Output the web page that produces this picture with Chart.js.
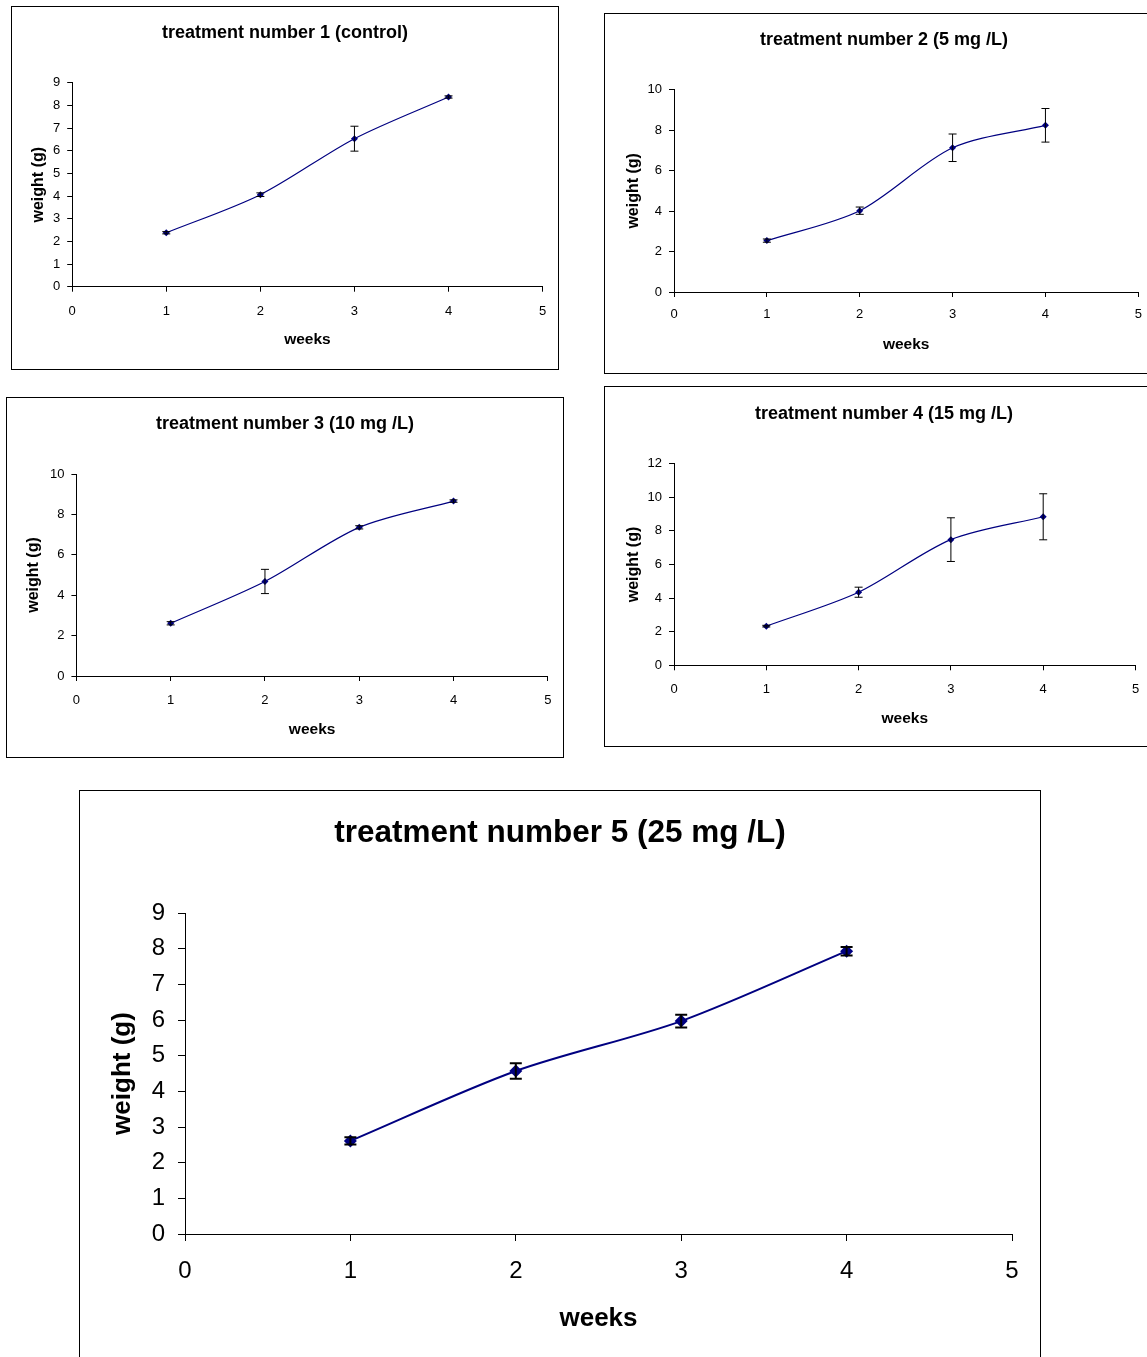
<!DOCTYPE html>
<html><head><meta charset="utf-8">
<script src="https://cdn.jsdelivr.net/npm/chart.js@4.4.0/dist/chart.umd.min.js"></script>
<style>
html,body{margin:0;padding:0;background:#fff;width:1147px;height:1357px;overflow:hidden;position:relative;}
.box{position:absolute;border:1px solid #000;box-sizing:border-box;background:#fff;}
.box canvas{display:block;}
</style></head><body>
<div class="box" id="b1"><canvas id="c1"></canvas></div>
<div class="box" id="b2"><canvas id="c2"></canvas></div>
<div class="box" id="b3"><canvas id="c3"></canvas></div>
<div class="box" id="b4"><canvas id="c4"></canvas></div>
<div class="box" id="b5"><canvas id="c5"></canvas></div>
<script>
// ---- data ----
const weeks = [1, 2, 3, 4];
const xTitle = 'weeks';
const yTitle = 'weight (g)';

const title1 = 'treatment number 1 (control)';
const weight1 = [2.38, 4.06, 6.53, 8.37];
const err1 = [0.05, 0.08, 0.55, 0.05];
const yMax1 = 9, yStep1 = 1;

const title2 = 'treatment number 2 (5 mg /L)';
const weight2 = [2.54, 4.02, 7.13, 8.24];
const err2 = [0.08, 0.18, 0.68, 0.83];
const yMax2 = 10, yStep2 = 2;

const title3 = 'treatment number 3 (10 mg /L)';
const weight3 = [2.61, 4.68, 7.36, 8.66];
const err3 = [0.08, 0.6, 0.08, 0.06];
const yMax3 = 10, yStep3 = 2;

const title4 = 'treatment number 4 (15 mg /L)';
const weight4 = [2.33, 4.35, 7.48, 8.84];
const err4 = [0.05, 0.3, 1.3, 1.37];
const yMax4 = 12, yStep4 = 2;

const title5 = 'treatment number 5 (25 mg /L)';
const weight5 = [2.61, 4.57, 5.97, 7.93];
const err5 = [0.1, 0.22, 0.18, 0.12];
const yMax5 = 9, yStep5 = 1;

const xMin = 0, xMax = 5, xStep = 1;

// ---- layout (box position, plot area in canvas coords, text centres) ----
const FONT = "'Liberation Sans', Arial, sans-serif";
const small = {titleSize: 18, tickSize: 13, xAxisSize: 15.5, yAxisSize: 16, lineW: 1.2, pointR: 3.5, errW: 1, cap: 4, ytl: 5, ytp: 7, xtl: 5};
const big = {titleSize: 31.5, tickSize: 24, xAxisSize: 26, yAxisSize: 26, lineW: 2, pointR: 6.5, errW: 2, cap: 6, ytl: 7, ytp: 13, xtl: 7};

const layouts = [
  {box: [11, 6, 548, 364], plot: [60.2, 75.7, 530.6, 279.7], titleCy: 25.7, tickCy: 304, weeksCy: 332.3, weightCx: 27, st: small},
  {box: [604, 13, 560, 361], plot: [69, 75.7, 533.3, 278], titleCy: 25.7, tickCy: 300.7, weeksCy: 330.7, weightCx: 28.4, st: small},
  {box: [6, 397, 558, 361], plot: [69.4, 76, 540.8, 278], titleCy: 25.7, tickCy: 302.3, weeksCy: 331.3, weightCx: 26.9, st: small},
  {box: [604, 386, 560, 361], plot: [69, 76.7, 530.5, 278.3], titleCy: 26.7, tickCy: 302.3, weeksCy: 331.3, weightCx: 28.4, st: small},
  {box: [79, 790, 962, 580], plot: [105, 122, 932, 443], titleCy: 42, tickCy: 480, weeksCy: 528, weightCx: 43, st: big}
];

const series = [
  {title: title1, y: weight1, err: err1, yMax: yMax1, yStep: yStep1},
  {title: title2, y: weight2, err: err2, yMax: yMax2, yStep: yStep2},
  {title: title3, y: weight3, err: err3, yMax: yMax3, yStep: yStep3},
  {title: title4, y: weight4, err: err4, yMax: yMax4, yStep: yStep4},
  {title: title5, y: weight5, err: err5, yMax: yMax5, yStep: yStep5}
];

function makeErrorPlugin(errs, st) {
  return {
    id: 'errbars',
    afterDatasetsDraw(chart) {
      const ctx = chart.ctx, xs = chart.scales.x, ys = chart.scales.y;
      const data = chart.data.datasets[0].data;
      ctx.save();
      ctx.strokeStyle = '#000';
      ctx.lineWidth = st.errW;
      data.forEach((p, i) => {
        const px = xs.getPixelForValue(p.x);
        const top = ys.getPixelForValue(p.y + errs[i]);
        const bot = ys.getPixelForValue(p.y - errs[i]);
        ctx.beginPath();
        ctx.moveTo(px, top); ctx.lineTo(px, bot);
        ctx.moveTo(px - st.cap, top); ctx.lineTo(px + st.cap, top);
        ctx.moveTo(px - st.cap, bot); ctx.lineTo(px + st.cap, bot);
        ctx.stroke();
      });
      ctx.restore();
    }
  };
}

layouts.forEach((L, idx) => {
  const S = series[idx], st = L.st;
  const [bl, bt, bw, bh] = L.box;
  const div = document.getElementById('b' + (idx + 1));
  div.style.left = bl + 'px'; div.style.top = bt + 'px';
  div.style.width = bw + 'px'; div.style.height = bh + 'px';
  const cw = bw - 2, ch = bh - 2;
  const cv = document.getElementById('c' + (idx + 1));
  cv.width = cw; cv.height = ch;
  cv.style.width = cw + 'px'; cv.style.height = ch + 'px';
  const [pl, pt, pr, pb] = L.plot;
  const tPadTop = L.titleCy - 0.6 * st.titleSize;
  const tPadBot = pt - tPadTop - 1.2 * st.titleSize;
  const xAxisH = ch - pb;
  const rightW = cw - pr;
  const xTickPad = L.tickCy - pb - st.xtl - 0.6 * st.tickSize;
  const xTitlePadBot = (ch - L.weeksCy) - 0.6 * st.xAxisSize;
  const yTitlePadTop = L.weightCx - 0.6 * st.yAxisSize;

  new Chart(cv, {
    type: 'line',
    data: {
      datasets: [{
        data: weeks.map((w, i) => ({x: w, y: S.y[i]})),
        borderColor: '#000080',
        backgroundColor: '#000080',
        borderWidth: st.lineW,
        pointStyle: 'rectRot',
        pointRadius: st.pointR,
        pointBorderWidth: 0,
        pointBackgroundColor: '#000080',
        tension: 0.3,
        fill: false
      }]
    },
    options: {
      responsive: false,
      animation: false,
      devicePixelRatio: 1,
      layout: {padding: 0},
      plugins: {
        legend: {display: false},
        tooltip: {enabled: false},
        title: {
          display: true, text: S.title, color: '#000',
          font: {family: FONT, size: st.titleSize, weight: 'bold'},
          padding: {top: tPadTop, bottom: tPadBot}
        }
      },
      scales: {
        x: {
          type: 'linear', min: xMin, max: xMax,
          afterFit(s) { s.height = xAxisH; },
          ticks: {stepSize: xStep, color: '#000', padding: xTickPad, maxRotation: 0,
                  font: {family: FONT, size: st.tickSize}},
          grid: {drawOnChartArea: false, drawTicks: true, tickLength: st.xtl, color: '#000', tickColor: '#000'},
          border: {display: true, color: '#000', width: 1},
          title: {display: true, text: xTitle, color: '#000',
                  font: {family: FONT, size: st.xAxisSize, weight: 'bold'},
                  padding: {top: 0, bottom: xTitlePadBot}}
        },
        y: {
          type: 'linear', min: 0, max: S.yMax,
          afterFit(s) { s.width = pl; },
          ticks: {stepSize: S.yStep, color: '#000', padding: st.ytp,
                  font: {family: FONT, size: st.tickSize}},
          grid: {drawOnChartArea: false, drawTicks: true, tickLength: st.ytl, color: '#000', tickColor: '#000'},
          border: {display: true, color: '#000', width: 1},
          title: {display: true, text: yTitle, color: '#000',
                  font: {family: FONT, size: st.yAxisSize, weight: 'bold'},
                  padding: {top: yTitlePadTop, bottom: 0}}
        },
        yRight: {
          type: 'linear', position: 'right', min: 0, max: S.yMax,
          afterFit(s) { s.width = rightW; },
          ticks: {display: false},
          grid: {display: false, drawTicks: false},
          border: {display: false},
          title: {display: false}
        }
      }
    },
    plugins: [makeErrorPlugin(S.err, st)]
  });
});
</script>
</body></html>
